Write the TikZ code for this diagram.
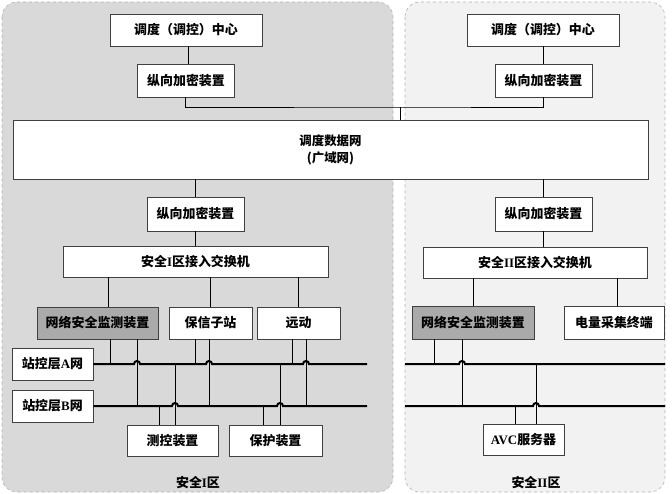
\documentclass[tikz,border=0pt]{standalone}
\usepackage{fontspec}
\newfontfamily\cjk{Noto Sans CJK SC}
\newfontfamily\lat{Liberation Serif}
\definecolor{pleft}{RGB}{217,217,217}
\definecolor{pright}{RGB}{242,242,242}
\definecolor{boxgray}{RGB}{170,170,170}
\tikzset{
  wh/.style 2 args={minimum width=#1bp,minimum height=#2bp},
  box/.style={draw=black!75, fill=white, line width=0.8bp, inner sep=0pt,
    font=\cjk\bfseries\fontsize{13}{15}\selectfont, text=black},
  graybox/.style={box, fill=boxgray},
  wire/.style={line width=0.9bp, draw=black},
  bus/.style={line width=2bp, draw=black},
  panel/.style={draw=black!30, dashed, rounded corners=15bp, line width=0.6bp},
  zone/.style={font=\cjk\bfseries\fontsize{13}{15}\selectfont, inner sep=0pt}
}
\newcommand{\LA}[1]{{\lat\bfseries #1}}
\begin{document}
\begin{tikzpicture}[x=1bp,y=-1bp]
\useasboundingbox (0,0) rectangle (672,494);
% panels
\draw[panel, fill=pleft] (2,2) rectangle (393,492);
\draw[panel, fill=pright] (405,2) rectangle (665,492);

% ---- left column
\node[box, wh={152}{32}] (lc) at (186,30) {调度（调控）中心};
\node[box, wh={97}{33}] (lv1) at (186,80.5) {纵向加密装置};
\node[box, wh={635}{59}, align=center, font=\cjk\bfseries\fontsize{12.5}{17}\selectfont] (wan) at (330.5,149.5) {调度数据网\\(广域网)};
\node[box, wh={97}{34}] (lv2) at (195.5,214) {纵向加密装置};
\node[box, wh={265}{31}] (ls) at (195.5,261.5) {安全\LA{I}区接入交换机};
\node[graybox, wh={121}{32}] (ln) at (97.5,323) {网络安全监测装置};
\node[box, wh={83}{32}] (lb) at (210.5,323) {保信子站};
\node[box, wh={83}{32}] (ly) at (298.5,323) {远动};
\node[box, wh={81}{32}] (la) at (52.5,364) {站控层\LA{A}网};
\node[box, wh={81}{32}] (lbn) at (52.5,406) {站控层\LA{B}网};
\node[box, wh={91}{31}] (lm) at (172.5,440.5) {测控装置};
\node[box, wh={93}{31}] (lp) at (275.5,440.5) {保护装置};
\node[zone] (z1) at (198,483) {安全\LA{I}区};

% ---- right column
\node[box, wh={152}{32}] (rc) at (543,30) {调度（调控）中心};
\node[box, wh={97}{33}] (rv1) at (543.5,80.5) {纵向加密装置};
\node[box, wh={97}{34}] (rv2) at (543.5,214) {纵向加密装置};
\node[box, wh={224}{31}] (rs) at (535,262.5) {安全\LA{II}区接入交换机};
\node[graybox, wh={122}{33}] (rn) at (473,322.5) {网络安全监测装置};
\node[box, wh={100}{33}] (re) at (614,322.5) {电量采集终端};
\node[box, wh={81}{31}] (ravc) at (523.5,439.5) {\LA{AVC}服务器};
\node[zone] (z2) at (536,483) {安全\LA{II}区};

% ---- top connectors
\coordinate (j) at (400,107);
\draw[wire] (lc.south -| 188,0) -- (lv1.north -| 188,0);
\draw[wire] (rc.south -| 543,0) -- (rv1.north -| 543,0);
\draw[wire] (lv1.south -| 185,0) |- (j) -| (rv1.south -| 543,0);
\draw[wire] (j) -- (wan.north -| j);
\draw[wire] (wan.south -| 195,0) -- (lv2.north -| 195,0);
\draw[wire] (wan.south -| 543,0) -- (rv2.north -| 543,0);
\draw[wire] (lv2.south -| 195,0) -- (ls.north -| 195,0);
\draw[wire] (rv2.south -| 543,0) -- (rs.north -| 543,0);
\draw[wire] (ls.south -| 108,0) -- (ln.north -| 108,0);
\draw[wire] (ls.south -| 210,0) -- (lb.north -| 210,0);
\draw[wire] (ls.south -| 298,0) -- (ly.north -| 298,0);
\draw[wire] (rs.south -| 473,0) -- (rn.north -| 473,0);
\draw[wire] (rs.south -| 617,0) -- (re.north -| 617,0);

% ---- bus ends
\coordinate (aLe) at (367,364);
\coordinate (bLe) at (367,406);
\coordinate (aRs) at (405,364);
\coordinate (aRe) at (665,364);
\coordinate (bRs) at (405,406);
\coordinate (bRe) at (665,406);

% ---- drops (left)
\draw[wire] (ln.south -| 110,0) -- (110,0 |- la.east);
\draw[wire] (ln.south -| 137,0) -- (137,0 |- lbn.east);
\draw[wire] (lb.south -| 195,0) -- (195,0 |- la.east);
\draw[wire] (lb.south -| 209,0) -- (209,0 |- lbn.east);
\draw[wire] (ly.south -| 292,0) -- (292,0 |- la.east);
\draw[wire] (ly.south -| 306,0) -- (306,0 |- lbn.east);
\draw[wire] (lm.north -| 159,0) -- (159,0 |- lbn.east);
\draw[wire] (lm.north -| 175,0) -- (175,0 |- la.east);
\draw[wire] (lp.north -| 263,0) -- (263,0 |- lbn.east);
\draw[wire] (lp.north -| 280,0) -- (280,0 |- la.east);
% ---- drops (right)
\draw[wire] (rn.south -| 434,0) -- (434,0 |- aRs);
\draw[wire] (rn.south -| 462,0) -- (462,0 |- bRs);
\draw[wire] (ravc.north -| 515,0) -- (515,0 |- bRs);
\draw[wire] (ravc.north -| 536,0) -- (536,0 |- aRs);

% ---- buses with hops
\draw[bus] (la.east) -- (134,364) arc[start angle=180,end angle=360,radius=3]
  -- (206,364) arc[start angle=180,end angle=360,radius=3]
  -- (303,364) arc[start angle=180,end angle=360,radius=3] -- (aLe);
\draw[bus] (lbn.east) -- (172,406) arc[start angle=180,end angle=360,radius=3]
  -- (277,406) arc[start angle=180,end angle=360,radius=3] -- (bLe);
\draw[bus] (aRs) -- (459,364) arc[start angle=180,end angle=360,radius=3] -- (aRe);
\draw[bus] (bRs) -- (533,406) arc[start angle=180,end angle=360,radius=3] -- (bRe);
\end{tikzpicture}
\end{document}
